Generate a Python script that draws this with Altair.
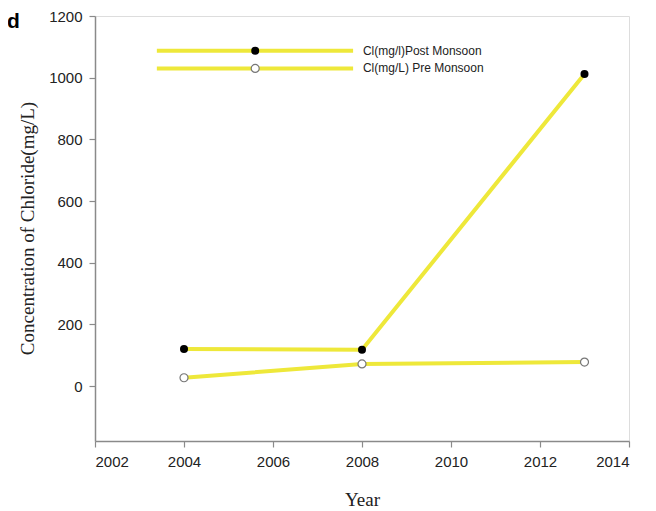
import altair as alt
import pandas as pd

# ---- data ----
years = [2004, 2008, 2013]
post_monsoon = [120, 118, 1012]
pre_monsoon = [27, 72, 78]
series_names = ["Cl(mg/l)Post Monsoon", "Cl(mg/L) Pre Monsoon"]
x_ticks = [2002, 2004, 2006, 2008, 2010, 2012, 2014]
y_ticks = [0, 200, 400, 600, 800, 1000, 1200]

# legend placement (in data units)
legend_x_start = 2003.39
legend_x_end = 2007.80
legend_x_marker = 2005.60
legend_x_text = 2008.02
legend_y = [1087, 1030]

YELLOW = "#eee83a"
GRAY = "#8a8a8a"

df = pd.DataFrame({
    "year": years * 2,
    "value": post_monsoon + pre_monsoon,
    "series": [series_names[0]] * 3 + [series_names[1]] * 3,
})
post = df[df.series == series_names[0]]
pre = df[df.series == series_names[1]]

leg = pd.DataFrame({
    "x1": [legend_x_start] * 2,
    "x2": [legend_x_end] * 2,
    "xm": [legend_x_marker] * 2,
    "xt": [legend_x_text] * 2,
    "y": legend_y,
    "label": series_names,
})

xscale = alt.Scale(domain=[2002, 2014], nice=False, zero=False)
yscale = alt.Scale(domain=[-178, 1200], nice=False, zero=False)

xaxis = alt.Axis(values=x_ticks, format="d", title="Year", grid=False,
                 labelFont="Liberation Sans", labelFontSize=15, labelColor="#222",
                 labelPadding=7, tickSize=6, tickColor=GRAY, domainColor=GRAY,
                 domainWidth=1.5, tickWidth=1.2,
                 titleFont="Liberation Serif", titleFontSize=19, titleFontWeight="normal",
                 titleColor="#222", titleY=64, titleBaseline="alphabetic")
yaxis = alt.Axis(values=y_ticks, format="d", title="Concentration of Chloride(mg/L)", grid=False,
                 labelFont="Liberation Sans", labelFontSize=15, labelColor="#222",
                 labelPadding=7, tickSize=6, tickColor=GRAY, domainColor=GRAY,
                 domainWidth=1.5, tickWidth=1.2,
                 titleFont="Liberation Serif", titleFontSize=19, titleFontWeight="normal",
                 titleColor="#222", titleX=-62, titleY=212, titleBaseline="alphabetic")

base_post = alt.Chart(post).encode(
    x=alt.X("year:Q", scale=xscale, axis=xaxis),
    y=alt.Y("value:Q", scale=yscale, axis=yaxis),
)
base_pre = alt.Chart(pre).encode(
    x=alt.X("year:Q", scale=xscale),
    y=alt.Y("value:Q", scale=yscale),
)

line_post = base_post.mark_line(color=YELLOW, strokeWidth=4)
line_pre = base_pre.mark_line(color=YELLOW, strokeWidth=4)
pts_post = base_post.mark_point(filled=True, color="black", size=64, opacity=1)
pts_pre = base_pre.mark_point(shape="circle", fill="white", stroke="#777",
                              strokeWidth=1.2, size=64, opacity=1, filled=False)

leg_base = alt.Chart(leg)
leg_lines = leg_base.mark_rule(color=YELLOW, strokeWidth=4).encode(
    x=alt.X("x1:Q", scale=xscale), x2="x2:Q", y=alt.Y("y:Q", scale=yscale))
leg_pts_post = alt.Chart(leg.iloc[[0]]).mark_point(filled=True, color="black", size=64, opacity=1).encode(
    x=alt.X("xm:Q", scale=xscale), y=alt.Y("y:Q", scale=yscale))
leg_pts_pre = alt.Chart(leg.iloc[[1]]).mark_point(fill="white", stroke="#777", strokeWidth=1.2,
                                                  size=64, opacity=1, filled=False).encode(
    x=alt.X("xm:Q", scale=xscale), y=alt.Y("y:Q", scale=yscale))
leg_text = leg_base.mark_text(align="left", baseline="middle", font="Liberation Sans",
                              fontSize=12, color="#222").encode(
    x=alt.X("xt:Q", scale=xscale), y=alt.Y("y:Q", scale=yscale), text="label:N")

panel_label = alt.Chart(pd.DataFrame({"t": ["d"]})).mark_text(
    align="left", baseline="alphabetic", font="Liberation Sans", fontSize=21,
    fontWeight="bold", color="black").encode(
    x=alt.value(-88), y=alt.value(12), text="t:N")

chart = alt.layer(
    line_post, line_pre, pts_post, pts_pre,
    leg_lines, leg_pts_post, leg_pts_pre, leg_text, panel_label,
).properties(
    width=534, height=425,
    padding={"left": 87, "top": 8, "right": 19, "bottom": 70},
    autosize=alt.AutoSizeParams(type="none"),
).configure_view(stroke=GRAY, strokeWidth=1.5).configure(background="white")

chart.save("out.html", embed_options={"renderer": "svg", "actions": False})
